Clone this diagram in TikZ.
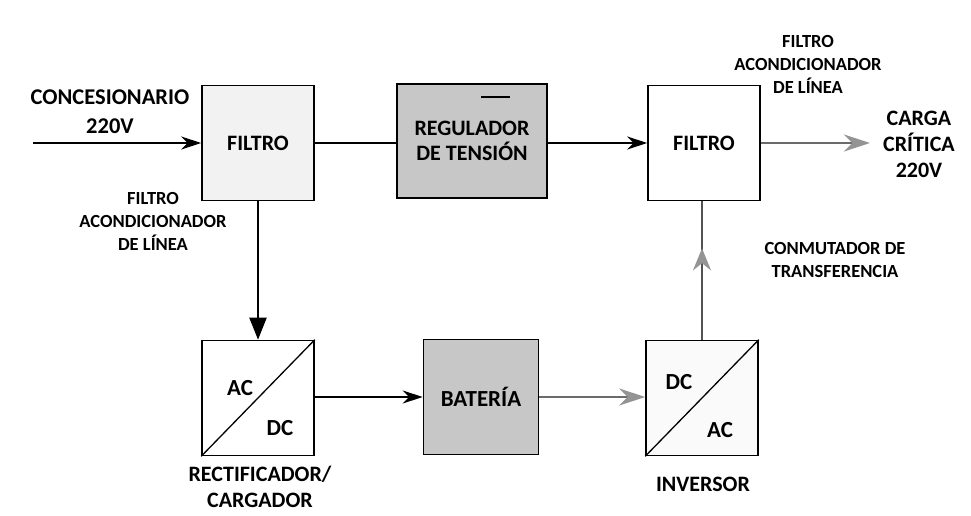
\documentclass[tikz,border=0pt]{standalone}
\usepackage{fontspec}
\setmainfont{Carlito}
\usetikzlibrary{arrows.meta,decorations.markings,calc}
\begin{document}
\begin{tikzpicture}[x=1pt,y=-1pt,
  box/.style={draw=black,line width=1.6pt,minimum width=112pt,minimum height=115pt,inner sep=0pt,font=\bfseries\fontsize{22}{25}\selectfont},
  big/.style={align=center,font=\bfseries\fontsize{22.5}{29}\selectfont},
  small/.style={align=center,font=\bfseries\fontsize{18.5}{23}\selectfont},
  acdc/.style={font=\bfseries\fontsize{23}{26}\selectfont},
  conn/.style={line width=2pt,draw=black},
  gconn/.style={line width=2pt,draw=black!58},
  tip/.style={-{Stealth[length=20pt,width=13pt]}},
  gtip/.style={-{Stealth[length=26pt,width=17pt,color=black!42]}}
]
\useasboundingbox (0,0) rectangle (971,516);
\fill[white] (0,0) rectangle (971,516);

% boxes
\node[box,fill=black!5] (f1) at (258,143) {FILTRO};
\node[box,fill=black!22,minimum width=150pt,minimum height=114pt,align=center,font=\bfseries\fontsize{22}{25}\selectfont] (reg) at (472,141) {REGULADOR\\DE TENSIÓN};
\node[box,fill=white] (f2) at (704,143) {FILTRO};
\node[box,fill=white] (rec) at (258,398) {};
\node[box,fill=black!22,minimum width=115pt,font=\bfseries\fontsize{23}{25}\selectfont] (bat) at (481,397) {BATERÍA};
\node[box,fill=black!2] (inv) at (702,398) {};

% small dash inside regulator
\draw[line width=1.4pt] (481,97) -- (510,97);

% diagonals and AC/DC labels
\draw[line width=1.3pt] (rec.south west) -- (rec.north east);
\draw[line width=1.3pt] (inv.south west) -- (inv.north east);
\node[acdc] (recac) at (240,388) {AC};
\node[acdc] (recdc) at (280,428) {DC};
\node[acdc] (invdc) at (679,382) {DC};
\node[acdc] (invac) at (720,430) {AC};

% labels
\node[big] (conc) at (110,112) {CONCESIONARIO\\220V};
\coordinate (src) at (33,143);
\node[small] (lf1) at (153,221) {FILTRO\\ACONDICIONADOR\\DE LÍNEA};
\node[small] (lf2) at (808,64) {FILTRO\\ACONDICIONADOR\\DE LÍNEA};
\node[big,font=\bfseries\fontsize{22}{26}\selectfont] (carga) at (919,144) {CARGA\\CRÍTICA\\220V};
\coordinate (cargaend) at (870,143);
\node[small] (conm) at (835,260) {CONMUTADOR DE\\TRANSFERENCIA};
\node[big,font=\bfseries\fontsize{22}{26}\selectfont] (lrec) at (260,487) {RECTIFICADOR/\\CARGADOR};
\node[big,font=\bfseries\fontsize{22}{26}\selectfont] (linv) at (703,484) {INVERSOR};

% connectors
\draw[conn,tip] (src) -- (f1.west);
\draw[conn] (f1.east) -- (f1.east -| reg.west);
\draw[conn,tip] (reg.east |- f2.west) -- (f2.west);
\draw[gconn,gtip] (f2.east) -- (cargaend);
\draw[conn,-{Triangle[length=22pt,width=17pt]}] (f1.south) -- (rec.north);
\draw[conn,tip] (rec.east |- bat.west) -- (bat.west);
\draw[gconn,gtip] (bat.east) -- (bat.east -| inv.west);
\draw[gconn,draw=black!68,postaction={decorate},decoration={markings,mark=at position 0.66 with {\arrow{Stealth[length=22pt,width=18pt,color=black!42]}}}] (inv.north) -- (inv.north |- f2.south);
\end{tikzpicture}
\end{document}
